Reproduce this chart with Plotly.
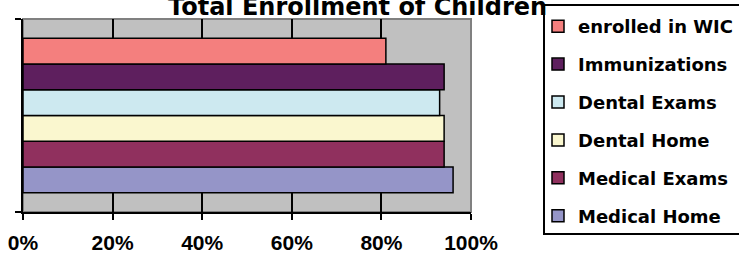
import plotly.graph_objects as go

categories = ["Total"]
series_names = ["Medical Home", "Medical Exams", "Dental Home", "Dental Exams",
                "Immunizations", "enrolled in WIC"]
series_values = [0.96, 0.94, 0.94, 0.93, 0.94, 0.81]
series_colors = ["#9595C8", "#90305E", "#FAF7CF", "#CDE9F0", "#5E1F5E", "#F47F7E"]
legend_ranks = [6, 5, 4, 3, 2, 1]
x_ticks = [0, 0.2, 0.4, 0.6, 0.8, 1.0]
x_tick_labels = ["0%", "20%", "40%", "60%", "80%", "100%"]
title_text = "Total Enrollment of Children"

W, H = 739, 254
L, R, T, B = 23, 268, 19, 42
PW, PH = W - L - R, H - T - B


def px_x(px):
    return (px - L) / PW


def px_y(py):
    return (H - B - py) / PH


fig = go.Figure()
for name, val, col, rank in zip(series_names, series_values, series_colors, legend_ranks):
    fig.add_trace(go.Bar(
        x=[val], y=categories, name=name, orientation="h",
        marker=dict(color=col, line=dict(color="black", width=1.5)),
        legendgroup=name, legendrank=rank,
    ))

fig.update_layout(
    width=W, height=H,
    margin=dict(l=L, r=R, t=T, b=B, autoexpand=False),
    paper_bgcolor="white",
    plot_bgcolor="#C0C0C0",
    barmode="group", bargap=0.2, bargroupgap=0,
    showlegend=True,
    legend=dict(
        traceorder="grouped", tracegroupgap=11.5, maxheight=1,
        x=538 / W, xref="container", xanchor="left",
        y=1 - 8 / H, yref="container", yanchor="top",
        bgcolor="rgba(0,0,0,0)", borderwidth=0,
        font=dict(family="DejaVu Sans", size=18, color="black", weight="bold"),
    ),
    xaxis=dict(
        range=[0, 1], tickvals=x_ticks, ticktext=x_tick_labels,
        showgrid=True, gridcolor="black", gridwidth=1.5,
        showline=True, linecolor="black", linewidth=1.5,
        ticks="outside", ticklen=6, tickwidth=1.5, tickcolor="black",
        ticklabelstandoff=5,
        tickfont=dict(family="Liberation Sans", size=21, color="black", weight="bold"),
        zeroline=False, fixedrange=True,
    ),
    yaxis=dict(
        type="category", tickson="boundaries",
        showticklabels=False, showgrid=False,
        showline=True, linecolor="black", linewidth=1.5,
        ticks="outside", ticklen=6, tickwidth=1.5, tickcolor="black",
        zeroline=False, fixedrange=True,
    ),
    shapes=[
        dict(type="rect", xref="paper", yref="paper", x0=0, x1=1, y0=0, y1=1,
             line=dict(color="#808080", width=2), layer="below"),
        dict(type="rect", xref="paper", yref="paper",
             x0=px_x(544), x1=px_x(770), y0=px_y(234), y1=px_y(5),
             line=dict(color="black", width=2), fillcolor="white", layer="above"),
    ],
    annotations=[dict(
        text=title_text, xref="paper", yref="paper", x=px_x(357), y=1,
        xanchor="center", yanchor="bottom", yshift=-4, showarrow=False,
        font=dict(family="DejaVu Sans", size=24, color="black", weight="bold"),
    )],
)

fig.write_html("out.html", post_script="document.body.style.margin='0';",
               config={"displayModeBar": False})
